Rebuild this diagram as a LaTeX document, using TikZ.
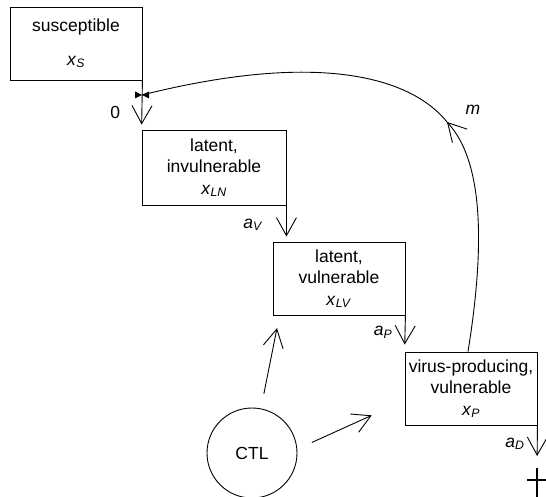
\documentclass[tikz,border=0pt]{standalone}
\usepackage{fontspec}
\setmainfont{Liberation Sans}
\usetikzlibrary{arrows.meta}

\begin{document}
\begin{tikzpicture}[x=1pt,y=-1pt,line width=0.9pt,
    font=\fontsize{17.5}{21.5}\selectfont,
    cell/.style={draw,align=center,inner sep=0pt,minimum width=132pt,minimum height=73pt},
    flow/.style={-{Straight Barb[length=18pt,width=20pt]}},
    rate/.style={left=#1}]
  \useasboundingbox (0,0) rectangle (546,497);
  \node[cell] (S) at (76,43.5) {susceptible\\[12pt]\textit{x}\textsubscript{\textit{S}}};
  \node[cell,minimum width=144pt,minimum height=75pt] (LN) at (214,167.5)
    {latent,\\invulnerable\\\textit{x}\textsubscript{\textit{LN}}};
  \node[cell] (LV) at (339,278.5) {latent,\\vulnerable\\\textit{x}\textsubscript{\textit{LV}}};
  \node[cell] (P) at (471,388.5) {virus-producing,\\vulnerable\\\textit{x}\textsubscript{\textit{P}}};
  \node[draw,circle,minimum size=90pt,inner sep=0pt] (CTL) at (252,453) {CTL};
  \coordinate (dead) at (537,468);
  \coordinate (kink) at (447,122);
  \coordinate (loop) at (142,95);
  \draw[flow,shorten >=5pt] (S.south east) -- (LN.north west)
    node[pos=.66,rate=18pt] {0};
  \draw[flow,shorten >=5pt] (LN.south east) -- (LN.south east |- LV.north)
    node[pos=.54,rate=20pt] {\textit{a}\textsubscript{\textit{V}}};
  \draw[flow,shorten >=7pt] (LV.south east) -- (P.north west)
    node[pos=.46,rate=9pt] {\textit{a}\textsubscript{\textit{P}}};
  \draw[flow,shorten >=12pt] (P.south east) -- (dead)
    node[pos=.43,rate=9pt] {\textit{a}\textsubscript{\textit{D}}};
  \draw[line width=1.8pt] (dead) -- ++(0,30);
  \draw[line width=1.8pt] ([xshift=-10pt,yshift=-12pt]dead) -- ++(20,0);
  \draw[flow,shorten <=15pt,shorten >=13pt] (CTL) -- ([xshift=7pt]LV.south west);
  \draw[flow,shorten <=16pt,shorten >=36pt] (CTL.5) -- ([yshift=-12pt]P.west);
  \draw[flow] ([xshift=-3pt]P.north) .. controls (486,240) and (482,160) .. (kink);
  \draw (kink) .. controls (415,82) and (330,48) .. (loop);
  \node (rm) at ([xshift=26pt,yshift=12pt]kink) {\textit{m}};
  \fill (loop) -- ++(-7,-3.5) -- ++(0,7) -- cycle;
  \fill (loop) -- ++(7,-3.5) -- ++(0,7) -- cycle;
\end{tikzpicture}
\end{document}
